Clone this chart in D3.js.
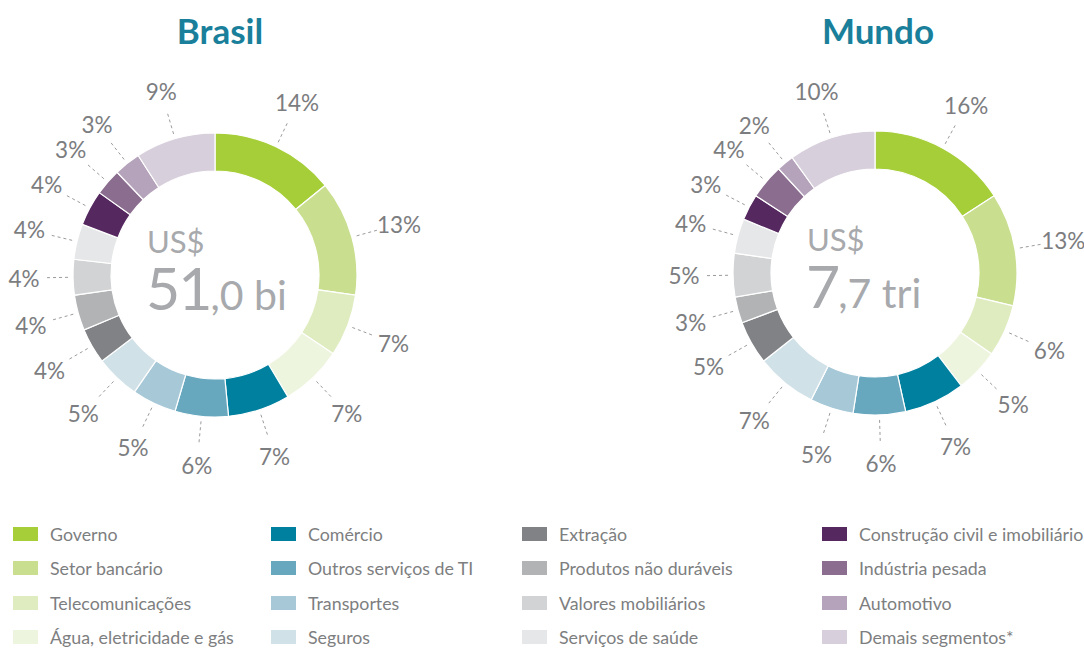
<!DOCTYPE html>
<html>
<head>
<meta charset="utf-8">
<script src="https://cdn.jsdelivr.net/npm/d3@7"></script>
<style>
  html, body { margin: 0; padding: 0; background: #fff; }
  svg { display: block; font-family: Lato, "Open Sans", sans-serif; }
</style>
</head>
<body>
<svg id="chart" width="1084" height="651"></svg>
<script>
// Segment names (clockwise from 12 o'clock) and their shares in percent
const categories = [
  "Governo", "Setor bancário", "Telecomunicações", "Água, eletricidade e gás",
  "Comércio", "Outros serviços de TI", "Transportes", "Seguros",
  "Extração", "Produtos não duráveis", "Valores mobiliários", "Serviços de saúde",
  "Construção civil e imobiliário", "Indústria pesada", "Automotivo", "Demais segmentos*"
];
const brasilValues = [14, 13, 7, 7, 7, 6, 5, 5, 4, 4, 4, 4, 4, 3, 3, 9];
const mundoValues  = [16, 13, 6, 5, 7, 6, 5, 7, 5, 3, 5, 4, 3, 4, 2, 10];
const colors = [
  "#a6ce39", "#c9df8f", "#dfecc0", "#eef5de",
  "#00809f", "#67a8bf", "#a6c8d7", "#d0e1e8",
  "#808285", "#b1b3b5", "#d1d3d4", "#e6e7e8",
  "#55285f", "#8b6d8f", "#b5a3bb", "#d8cfdc"
];
const panels = [
  { title: "Brasil", values: brasilValues, big: "51", rest: ",0 bi", cx: 215, cy: 275, tx: 220 },
  { title: "Mundo",  values: mundoValues,  big: "7",  rest: ",7 tri", cx: 875, cy: 273, tx: 878 }
];

const svg = d3.select("#chart");
const color = d3.scaleOrdinal().domain(categories).range(colors);
const pie = d3.pie().sort(null).value(d => d.value);
const rInner = 104, rOuter = 142;
const arc = d3.arc().innerRadius(rInner).outerRadius(rOuter);
const lineIn = d3.arc().innerRadius(147).outerRadius(147);
const lineOut = d3.arc().innerRadius(169).outerRadius(169);
const labelArc = d3.arc().innerRadius(191).outerRadius(191);

panels.forEach(p => {
  const data = categories.map((c, i) => ({ name: c, value: p.values[i] }));
  const arcs = pie(data);

  svg.append("text")
    .attr("x", p.tx).attr("y", 44)
    .attr("text-anchor", "middle")
    .attr("font-size", 35).attr("font-weight", 700)
    .attr("fill", "#1a7f9a")
    .text(p.title);

  const g = svg.append("g").attr("transform", `translate(${p.cx},${p.cy})`);

  g.selectAll("path.slice")
    .data(arcs).join("path")
    .attr("class", "slice")
    .attr("d", arc)
    .attr("fill", d => color(d.data.name))
    .attr("stroke", "#fff").attr("stroke-width", 1.2);

  g.selectAll("line.leader")
    .data(arcs).join("line")
    .attr("class", "leader")
    .attr("x1", d => lineIn.centroid(d)[0]).attr("y1", d => lineIn.centroid(d)[1])
    .attr("x2", d => lineOut.centroid(d)[0]).attr("y2", d => lineOut.centroid(d)[1])
    .attr("stroke", "#9a9b9d").attr("stroke-width", 1)
    .attr("stroke-dasharray", "3,3");

  g.selectAll("text.pct")
    .data(arcs).join("text")
    .attr("class", "pct")
    .attr("x", d => labelArc.centroid(d)[0])
    .attr("y", d => labelArc.centroid(d)[1])
    .attr("text-anchor", "middle")
    .attr("dominant-baseline", "central")
    .attr("font-size", 22.5)
    .attr("fill", "#7c7d80")
    .text(d => d.data.value + "%");

  // central total
  g.append("text")
    .attr("x", -68).attr("y", -22)
    .attr("font-size", 31).attr("fill", "#a7a9ac")
    .text("US$");
  const t = g.append("text")
    .attr("x", -69).attr("y", 35)
    .attr("fill", "#a7a9ac");
  t.append("tspan").attr("font-size", 59).attr("letter-spacing", -2).text(p.big);
  t.append("tspan").attr("font-size", 41).text(p.rest);
});

// legend: four columns of four entries
const colX = [13, 271, 522, 822];
const rowY = [534, 568, 603, 637];
const legend = svg.append("g")
  .selectAll("g")
  .data(categories).join("g")
  .attr("transform", (d, i) => `translate(${colX[Math.floor(i / 4)]},${rowY[i % 4]})`);
legend.append("rect")
  .attr("x", 0).attr("y", -7).attr("width", 25).attr("height", 14)
  .attr("fill", d => color(d));
legend.append("text")
  .attr("x", 37).attr("y", 0)
  .attr("dominant-baseline", "central")
  .attr("font-size", 17.8).attr("fill", "#7d7e80")
  .text(d => d);
</script>
</body>
</html>
